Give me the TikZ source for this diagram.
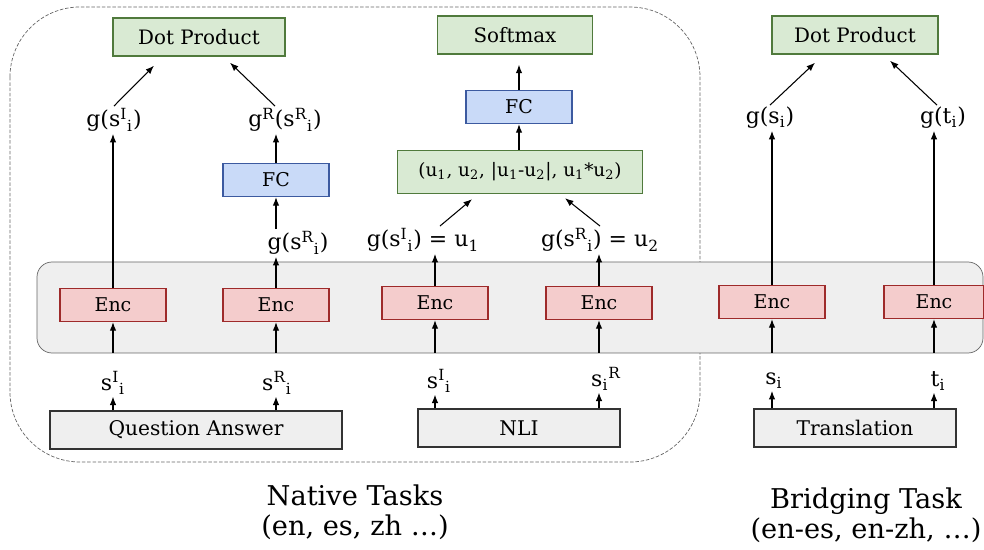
\documentclass[tikz,border=0pt]{standalone}
\usepackage{fontspec}
\setmainfont{DejaVu Serif}
\usetikzlibrary{arrows.meta}

\definecolor{topfill}{HTML}{D9EAD3}
\definecolor{topline}{HTML}{507A3C}
\definecolor{fcfill}{HTML}{C9DAF8}
\definecolor{fcline}{HTML}{3C5AA0}
\definecolor{encfill}{HTML}{F4CCCC}
\definecolor{encline}{HTML}{9E2A2A}
\definecolor{taskfill}{HTML}{EFEFEF}

\newcommand{\gsup}[2]{s\textsuperscript{#1}\textsubscript{#2}}

\begin{document}
\begin{tikzpicture}[x=0.02cm, y=-0.02cm,
    arr/.style={-{Latex[length=1.7mm,width=1.3mm]}, semithick},
    topbox/.style={draw=topline, fill=topfill, thick, minimum height=0.76cm, font=\fontsize{11.3}{13}\selectfont},
    fcbox/.style={draw=fcline, fill=fcfill, thick, minimum width=2.12cm, minimum height=0.66cm, font=\fontsize{10.8}{12}\selectfont},
    encbox/.style={draw=encline, fill=encfill, thick, minimum width=2.12cm, minimum height=0.66cm, font=\fontsize{10.8}{12}\selectfont},
    taskbox/.style={draw=black!80, fill=taskfill, thick, minimum height=0.76cm, font=\fontsize{11.5}{13}\selectfont},
    lbl/.style={inner sep=1pt, font=\fontsize{12.5}{14}\selectfont},
    caption/.style={align=center, font=\fontsize{15.5}{17}\selectfont}]
    \useasboundingbox (0,0) rectangle (984,550);

    % groups
    \draw[black!60, dash pattern=on 2pt off 1pt, rounded corners=1.4cm] (10,7) rectangle (700,462);
    \draw[black!60, fill=taskfill, rounded corners=0.3cm] (37,262) rectangle (983,353);
    \coordinate (bb) at (0,353);

    % encoders
    \node[encbox] (e1) at (113,305) {Enc};
    \node[encbox] (e2) at (276,305) {Enc};
    \node[encbox] (e3) at (435,303) {Enc};
    \node[encbox] (e4) at (599,303) {Enc};
    \node[encbox] (e5) at (772,302) {Enc};
    \node[encbox, minimum width=2cm] (e6) at (934,302) {Enc};

    % tasks
    \node[taskbox, minimum width=5.84cm] (qa) at (196,430) {Question Answer};
    \node[taskbox, minimum width=4.04cm] (nli) at (519,428) {NLI};
    \node[taskbox, minimum width=4.04cm] (tr) at (855,428) {Translation};

    \node[lbl] (s1) at (113,383) {\gsup{I}{i}};
    \node[lbl] (s2) at (277,383) {\gsup{R}{i}};
    \node[lbl] (s3) at (439,381) {\gsup{I}{i}};
    \node[lbl] (s4) at (606,379) {s\textsubscript{i}\textsuperscript{R}};
    \node[lbl] (s5) at (774,381) {s\textsubscript{i}};
    \node[lbl] (s6) at (938,381) {t\textsubscript{i}};

    \foreach \t/\e/\s in {qa/e1/s1, qa/e2/s2, nli/e3/s3, nli/e4/s4, tr/e5/s5, tr/e6/s6} {
        \draw[arr] (\t.north -| \e) -- (\e |- \s.south);
        \draw[arr] (\e |- bb) -- (\e.south);
    }

    % question answer
    \node[topbox, minimum width=3.44cm] (dot1) at (199,37) {Dot Product};
    \node[lbl] (la) at (114,120) {g(\gsup{I}{i})};
    \node[lbl] (lb) at (285,120) {g\textsuperscript{R}(\gsup{R}{i})};
    \node[fcbox] (fc1) at (276,180) {FC};
    \node[lbl] (lc) at (298,243) {g(\gsup{R}{i})};
    \draw[arr] (e1.north) -- (e1 |- la.south);
    \draw[arr] (e2.north) -- (e2 |- lc.south);
    \draw[arr] (lc.north -| fc1) -- (fc1.south);
    \draw[arr] (fc1.north) -- (fc1 |- lb.south);
    \draw[arr] (la.north) -- ([xshift=-0.9cm,yshift=-0.18cm]dot1.south);
    \draw[arr] ([xshift=-0.2cm]lb.north) -- ([xshift=0.62cm,yshift=-0.12cm]dot1.south);

    % nli
    \node[topbox, minimum width=3.1cm] (soft) at (515,35) {Softmax};
    \node[fcbox] (fc2) at (519,107) {FC};
    \node[topbox, minimum width=4.9cm, minimum height=0.86cm, font=\fontsize{10.5}{12}\selectfont] (ubox) at (520,172)
        {(u\textsubscript{1}, u\textsubscript{2}, |u\textsubscript{1}-u\textsubscript{2}|, u\textsubscript{1}*u\textsubscript{2})};
    \node[lbl] (ld) at (423,240) {g(\gsup{I}{i}) = u\textsubscript{1}};
    \node[lbl] (le) at (600,240) {g(\gsup{R}{i}) = u\textsubscript{2}};
    \draw[arr] (e3.north) -- (e3 |- ld.south);
    \draw[arr] (e4.north) -- (e4 |- le.south);
    \draw[arr] ([xshift=0.34cm]ld.north) -- ([xshift=-0.96cm,yshift=-0.1cm]ubox.south);
    \draw[arr] (le.north) -- ([xshift=0.9cm,yshift=-0.08cm]ubox.south);
    \draw[arr] (ubox.north -| fc2) -- (fc2.south);
    \draw[arr, shorten >=0.2cm] (fc2.north) -- (fc2 |- soft.south);

    % translation
    \node[topbox, minimum width=3.32cm] (dot3) at (855,35) {Dot Product};
    \node[lbl] (lf) at (770,118) {g(s\textsubscript{i})};
    \node[lbl] (lg) at (943,118) {g(t\textsubscript{i})};
    \draw[arr] (e5.north) -- (e5 |- lf.south);
    \draw[arr] (e6.north) -- (e6 |- lg.south);
    \draw[arr] (lf.north) -- ([xshift=-0.8cm,yshift=-0.16cm]dot3.south);
    \draw[arr] ([xshift=-0.12cm]lg.north) -- ([xshift=0.7cm,yshift=-0.12cm]dot3.south);

    % captions
    \node[caption] (native) at (355,512) {Native Tasks\\(en, es, zh …)};
    \node[caption] (bridge) at (866,515) {Bridging Task\\(en-es, en-zh, …)};
\end{tikzpicture}
\end{document}
